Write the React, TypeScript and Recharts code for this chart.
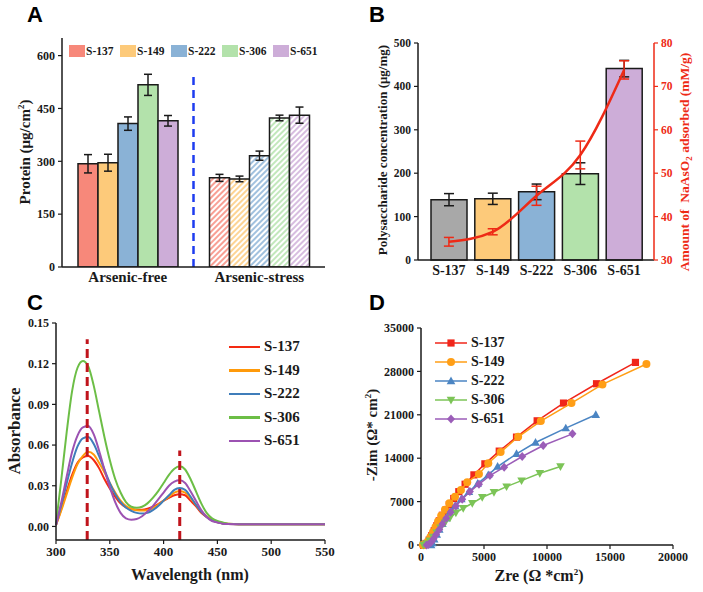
import React from 'react';
import {
  BarChart, Bar, XAxis, YAxis, ErrorBar, Cell, ReferenceLine, Legend,
  ComposedChart, Line, LineChart, ScatterChart, Scatter,
} from 'recharts';

const SERIF = '"Liberation Serif", "Times New Roman", serif';
const SANS = '"Liberation Sans", Arial, sans-serif';
const INK = '#1a1a1a';
const RED = '#EE2A16';

// ---------- shared ----------
const strains = ['S-137', 'S-149', 'S-222', 'S-306', 'S-651'];
const barColors = ['#F7887A', '#FDCA7A', '#8AB2D6', '#B3E2AB', '#CDADD8'];

// ---------- A: protein ----------
const conditions = ['Arsenic-free', 'Arsenic-stress'];
const proteinFree = [293, 296, 407, 517, 415];
const proteinFreeErr = [26, 24, 19, 30, 15];
const proteinStress = [253, 250, 316, 423, 431];
const proteinStressErr = [10, 8, 13, 8, 23];
const proteinTicks = [0, 150, 300, 450, 600];

// ---------- B: polysaccharide / adsorption ----------
const polyBarColors = ['#A8A8A8', '#FDCA7A', '#8AB2D6', '#B3E2AB', '#CDADD8'];
const polysaccharide = [139, 141, 157, 199, 441];
const polysaccharideErr = [14, 13, 18, 25, 19];
const adsorbed = [34.2, 36.5, 44.8, 54.2, 73.8];
const adsorbedErr = [1.0, 0.7, 2.2, 3.2, 2.1];
const polyTicks = [0, 100, 200, 300, 400, 500];
const adsTicks = [30, 40, 50, 60, 70, 80];

// ---------- C: UV-vis spectra ----------
const wavelength = [
  300, 305, 310, 315, 320, 325, 330, 335, 340, 345, 350, 355, 360, 365, 370, 375, 380,
  385, 390, 395, 400, 405, 410, 415, 420, 425, 430, 435, 440, 445, 450, 455, 460,
  470, 480, 490, 500, 510, 520, 530, 540, 550,
];
const absS137 = [
  0.001, 0.013, 0.026, 0.038, 0.047, 0.051, 0.052, 0.049, 0.043, 0.035, 0.028, 0.022, 0.017, 0.014, 0.0128, 0.0123, 0.0123,
  0.013, 0.0145, 0.0165, 0.019, 0.021, 0.023, 0.0238, 0.023, 0.019, 0.015, 0.010, 0.007, 0.0045, 0.003, 0.0022, 0.0018,
  0.0017, 0.0017, 0.0017, 0.0017, 0.0017, 0.0017, 0.0017, 0.0017, 0.0017,
];
const absS149 = [
  0.001, 0.012, 0.024, 0.036, 0.046, 0.052, 0.055, 0.053, 0.047, 0.040, 0.032, 0.025, 0.019, 0.015, 0.013, 0.012, 0.0118,
  0.012, 0.0135, 0.016, 0.019, 0.022, 0.025, 0.026, 0.025, 0.021, 0.016, 0.011, 0.0075, 0.005, 0.0035, 0.0025, 0.002,
  0.0017, 0.0017, 0.0017, 0.0017, 0.0017, 0.0017, 0.0017, 0.0017, 0.0017,
];
const absS222 = [
  0.001, 0.016, 0.032, 0.047, 0.059, 0.065, 0.066, 0.061, 0.052, 0.042, 0.032, 0.024, 0.018, 0.014, 0.0115, 0.010, 0.0095,
  0.010, 0.012, 0.015, 0.019, 0.023, 0.027, 0.0283, 0.027, 0.022, 0.016, 0.011, 0.007, 0.0045, 0.003, 0.0022, 0.0018,
  0.0017, 0.0017, 0.0017, 0.0017, 0.0017, 0.0017, 0.0017, 0.0017, 0.0017,
];
const absS306 = [
  0.002, 0.035, 0.070, 0.100, 0.117, 0.122, 0.118, 0.104, 0.085, 0.066, 0.049, 0.035, 0.025, 0.018, 0.0145, 0.0137, 0.0145,
  0.017, 0.021, 0.026, 0.032, 0.038, 0.0425, 0.0443, 0.042, 0.035, 0.026, 0.017, 0.010, 0.006, 0.004, 0.003, 0.002,
  0.0017, 0.0017, 0.0017, 0.0017, 0.0017, 0.0017, 0.0017, 0.0017, 0.0017,
];
const absS651 = [
  0.001, 0.018, 0.037, 0.055, 0.067, 0.073, 0.074, 0.068, 0.056, 0.042, 0.029, 0.018, 0.010, 0.006, 0.005, 0.0055, 0.0075,
  0.011, 0.015, 0.020, 0.025, 0.030, 0.033, 0.034, 0.032, 0.026, 0.019, 0.012, 0.007, 0.004, 0.003, 0.002, 0.0018,
  0.0017, 0.0017, 0.0017, 0.0017, 0.0017, 0.0017, 0.0017, 0.0017, 0.0017,
];
const lineColors = ['#F42A12', '#FF9A0A', '#3F7DBA', '#6CBE46', '#9C52B2'];
const absTicks = [0, 0.03, 0.06, 0.09, 0.12, 0.15];
const wlTicks = [300, 350, 400, 450, 500, 550];
const peakWavelengths = [329, 415];
const peakMarkTops = [0.138, 0.056];

// ---------- D: Nyquist plots [Zre, -Zim] ----------
const nyquistS137: [number, number][] = [
  [200, 0], [400, 250], [650, 800], [850, 1500], [1050, 2300], [1250, 3100], [1450, 3900], [1700, 4800],
  [1950, 5600], [2250, 6500], [2600, 7500], [3000, 8600], [3500, 9800], [4200, 11310], [5070, 13090],
  [6210, 15140], [7580, 17400], [9220, 20030], [11310, 22890], [13930, 26010], [17020, 29450],
];
const nyquistS149: [number, number][] = [
  [150, 0], [300, 100], [550, 600], [750, 1300], [950, 2100], [1150, 2900], [1350, 3800], [1600, 4700],
  [1900, 5700], [2250, 6730], [2700, 7800], [3170, 8880], [3670, 10130], [4600, 11470], [5340, 13200],
  [6320, 14980], [7710, 17450], [9510, 19980], [11940, 22890], [14400, 25900], [17890, 29190],
];
const nyquistS222: [number, number][] = [
  [800, 0], [900, 300], [1050, 900], [1250, 1700], [1450, 2500], [1700, 3400], [2000, 4300], [2300, 5300],
  [2700, 6300], [3200, 7400], [3800, 8600], [4500, 9900], [5340, 11310], [6080, 12650], [7580, 14700],
  [9090, 16530], [11490, 18850], [13870, 21000],
];
const nyquistS306: [number, number][] = [
  [200, 0], [450, 250], [700, 700], [950, 1300], [1250, 2000], [1550, 2800], [1900, 3600], [2300, 4400],
  [2770, 5220], [3350, 5930], [4070, 6730], [4860, 7700], [5790, 8510], [6790, 9420], [7980, 10390],
  [9430, 11580], [11070, 12650],
];
const nyquistS651: [number, number][] = [
  [450, 0], [600, 100], [800, 450], [1000, 1000], [1200, 1700], [1450, 2500], [1700, 3400], [2000, 4300],
  [2350, 5300], [2770, 6300], [3270, 7380], [3880, 8610], [4600, 9810], [5470, 11200], [6600, 12550],
  [8030, 14270], [9700, 16040], [12020, 17930],
];
const nyquistColors = ['#F0261A', '#FF9E16', '#4B85C3', '#7CC457', '#9B5DB8'];
const nyquistMarkers = ['square', 'circle', 'up', 'down', 'diamond'];
const zreTicks = [0, 5000, 10000, 15000, 20000];
const zimTicks = [0, 7000, 14000, 21000, 28000, 35000];

// ---------- helpers ----------
const tickFont = (size: number, fill = INK) => ({ fontFamily: SERIF, fontWeight: 700, fontSize: size, fill });
const axisLine = { stroke: INK, strokeWidth: 1.5 };
const tickLine = { stroke: INK, strokeWidth: 1.2 };

function AxisTitle({ x, y, rotate, size, color = INK, children }: any) {
  return (
    <div
      style={{
        position: 'absolute', left: x, top: y,
        transform: `translate(-50%, -50%)${rotate ? ' rotate(-90deg)' : ''}`,
        whiteSpace: 'nowrap', fontFamily: SERIF, fontWeight: 700, fontSize: size,
        color, lineHeight: 1,
      }}
    >
      {children}
    </div>
  );
}

function PanelTag({ x, y, children }: any) {
  return (
    <div style={{ position: 'absolute', left: x, top: y, fontFamily: SANS, fontWeight: 700, fontSize: 22, lineHeight: 1, color: '#000' }}>
      {children}
    </div>
  );
}

function Marker({ kind, cx, cy, color }: any) {
  switch (kind) {
    case 'square':
      return <rect x={cx - 3.6} y={cy - 3.6} width={7.2} height={7.2} fill={color} />;
    case 'circle':
      return <circle cx={cx} cy={cy} r={4} fill={color} />;
    case 'up':
      return <polygon points={`${cx},${cy - 4.5} ${cx + 4.3},${cy + 3.2} ${cx - 4.3},${cy + 3.2}`} fill={color} />;
    case 'down':
      return <polygon points={`${cx},${cy + 4.5} ${cx + 4.3},${cy - 3.2} ${cx - 4.3},${cy - 3.2}`} fill={color} />;
    default:
      return <polygon points={`${cx},${cy - 4.5} ${cx + 4},${cy} ${cx},${cy + 4.5} ${cx - 4},${cy}`} fill={color} />;
  }
}

const markerShape = (kind: string, color: string) => (props: any) => {
  const { cx, cy } = props;
  if (cx == null || cy == null) return <g />;
  return <Marker kind={kind} cx={cx} cy={cy} color={color} />;
};

// ---------- data tables ----------
const proteinRows = conditions.map((c, ci) => {
  const row: any = { condition: c };
  strains.forEach((s, si) => {
    row[s] = ci === 0 ? proteinFree[si] : proteinStress[si];
    row[`${s}_err`] = ci === 0 ? proteinFreeErr[si] : proteinStressErr[si];
  });
  return row;
});

const polyRows = strains.map((s, i) => ({
  strain: s, poly: polysaccharide[i], polyErr: polysaccharideErr[i], ads: adsorbed[i], adsErr: adsorbedErr[i],
}));

const spectra = [absS137, absS149, absS222, absS306, absS651];
const spectraRows = wavelength.map((w, i) => {
  const row: any = { wl: w };
  strains.forEach((s, si) => { row[s] = spectra[si][i]; });
  return row;
});

const nyquist = [nyquistS137, nyquistS149, nyquistS222, nyquistS306, nyquistS651].map((pts) =>
  pts.map(([x, y]) => ({ x, y })),
);

// ---------- legends ----------
const ProteinLegend = () => (
  <div style={{ display: 'flex' }}>
    {strains.map((s, i) => (
      <div key={s} style={{ display: 'flex', alignItems: 'center', width: 51 }}>
        <span style={{ display: 'inline-block', width: 16, height: 12, background: barColors[i] }} />
        <span style={{ marginLeft: 1, fontFamily: SERIF, fontWeight: 700, fontSize: 11.5, color: INK }}>{s}</span>
      </div>
    ))}
  </div>
);

const SpectraLegend = () => (
  <div>
    {strains.map((s, i) => (
      <div key={s} style={{ display: 'flex', alignItems: 'center', height: 23.5 }}>
        <span style={{ display: 'inline-block', width: 31, height: 2.5, background: lineColors[i] }} />
        <span style={{ marginLeft: 4, fontFamily: SERIF, fontWeight: 700, fontSize: 15, color: INK }}>{s}</span>
      </div>
    ))}
  </div>
);

const NyquistLegend = () => (
  <div>
    {strains.map((s, i) => (
      <div key={s} style={{ display: 'flex', alignItems: 'center', height: 18.85 }}>
        <svg width={32} height={12} style={{ display: 'block' }}>
          <line x1={0} y1={6} x2={32} y2={6} stroke={nyquistColors[i]} strokeWidth={1.5} />
          <Marker kind={nyquistMarkers[i]} cx={16} cy={6} color={nyquistColors[i]} />
        </svg>
        <span style={{ marginLeft: 4, fontFamily: SERIF, fontWeight: 700, fontSize: 14, color: INK }}>{s}</span>
      </div>
    ))}
  </div>
);

export default function App() {
  return (
    <div style={{ position: 'absolute', left: 0, top: 0, width: 703, height: 592, background: '#fff', overflow: 'hidden' }}>
      {/* A */}
      <div style={{ position: 'absolute', left: 0, top: 0 }}>
        <BarChart width={345} height={295} data={proteinRows} margin={{ top: 38, right: 20, bottom: 0, left: 20 }} barGap={0} barSize={20}>
          <defs>
            {barColors.map((c, i) => (
              <pattern key={c} id={`hatch-${i}`} patternUnits="userSpaceOnUse" width={4} height={4} patternTransform="rotate(45)">
                <rect width={4} height={4} fill="#fff" />
                <line x1={1} y1={0} x2={1} y2={4} stroke={c} strokeWidth={1.6} />
              </pattern>
            ))}
          </defs>
          <XAxis dataKey="condition" height={28} tickLine={false} tickSize={0} tickMargin={4} axisLine={axisLine} tick={tickFont(15)} interval={0} />
          <XAxis xAxisId="mid" type="number" domain={[0, 1]} orientation="top" height={0} tick={false} tickLine={false} axisLine={axisLine} allowDataOverflow />
          <YAxis domain={[0, 650]} ticks={proteinTicks} width={42} axisLine={axisLine} tickLine={tickLine} tickSize={4} tickMargin={3} tick={tickFont(12)} allowDataOverflow />
          <YAxis yAxisId="frame" orientation="right" domain={[0, 1]} width={0} tick={false} tickLine={false} axisLine={axisLine} />
          {strains.map((s, si) => (
            <Bar key={s} dataKey={s} stroke={INK} strokeWidth={1.5} isAnimationActive={false}>
              {conditions.map((c, ci) => (
                <Cell key={c} fill={ci === 0 ? barColors[si] : `url(#hatch-${si})`} />
              ))}
              <ErrorBar dataKey={`${s}_err`} width={4} stroke={INK} strokeWidth={1.5} />
            </Bar>
          ))}
          <ReferenceLine xAxisId="mid" segment={[{ x: 0.5, y: 0 }, { x: 0.5, y: 550 }]} stroke="#1E3CF0" strokeWidth={2.5} strokeDasharray="8 5" />
          <Legend layout="horizontal" verticalAlign="middle" align="center" content={() => <ProteinLegend />}
            wrapperStyle={{ left: 69, top: 45, width: 260, height: 14 }} />
        </BarChart>
      </div>
      <AxisTitle x={25} y={152} rotate size={15}>Protein (μg/cm<sup style={{ fontSize: 9 }}>2</sup>)</AxisTitle>
      <PanelTag x={27} y={4}>A</PanelTag>

      {/* B */}
      <div style={{ position: 'absolute', left: 350, top: 0 }}>
        <ComposedChart width={353} height={295} data={polyRows} margin={{ top: 43, right: 19, bottom: 7, left: 28 }}>
          <XAxis dataKey="strain" height={28} padding={{ left: 9, right: 8 }} tickLine={false} tickSize={0} tickMargin={5} tick={tickFont(14)} axisLine={axisLine} interval={0} />
          <XAxis xAxisId="top" dataKey="strain" orientation="top" height={0} tick={false} tickLine={false} axisLine={axisLine} />
          <YAxis yAxisId="left" domain={[0, 500]} ticks={polyTicks} width={40} axisLine={axisLine} tickLine={tickLine} tickSize={4} tickMargin={3} tick={tickFont(11.5)} />
          <YAxis yAxisId="right" orientation="right" domain={[30, 80]} ticks={adsTicks} width={30}
            axisLine={{ stroke: RED, strokeWidth: 1.5 }} tickLine={{ stroke: RED, strokeWidth: 1.2 }} tickSize={4} tickMargin={3} tick={tickFont(11.5, RED)} />
          <Bar yAxisId="left" dataKey="poly" barSize={36} stroke={INK} strokeWidth={1.5} isAnimationActive={false}>
            {polyRows.map((r, i) => <Cell key={r.strain} fill={polyBarColors[i]} />)}
            <ErrorBar dataKey="polyErr" width={5} stroke={INK} strokeWidth={1.5} />
          </Bar>
          <Line yAxisId="right" dataKey="ads" type="monotone" stroke={RED} strokeWidth={2.5} dot={false} isAnimationActive={false}>
            <ErrorBar dataKey="adsErr" width={5} stroke={RED} strokeWidth={1.5} />
          </Line>
        </ComposedChart>
      </div>
      <AxisTitle x={382} y={150} rotate size={13}>Polysaccharide concentration (μg/mg)</AxisTitle>
      <AxisTitle x={686} y={162} rotate size={13.5} color={RED}>Amount of&nbsp; NaAsO<sub style={{ fontSize: 9 }}>2</sub> adsorbed (mM/g)</AxisTitle>
      <PanelTag x={369} y={4}>B</PanelTag>

      {/* C */}
      <div style={{ position: 'absolute', left: 0, top: 295 }}>
        <LineChart width={345} height={297} data={spectraRows} margin={{ top: 28, right: 20, bottom: 28, left: 10 }}>
          <XAxis dataKey="wl" type="number" domain={[300, 550]} ticks={wlTicks} height={24} axisLine={axisLine} tickLine={tickLine} tickSize={4} tickMargin={3} tick={tickFont(13)} />
          <XAxis xAxisId="top" type="number" domain={[300, 550]} orientation="top" height={0} tick={false} tickLine={false} axisLine={axisLine} />
          <YAxis domain={[-0.01, 0.15]} ticks={absTicks} width={46} tickFormatter={(v: number) => v.toFixed(2)}
            axisLine={axisLine} tickLine={tickLine} tickSize={4} tickMargin={3} tick={tickFont(12)} allowDataOverflow />
          <YAxis yAxisId="frame" orientation="right" domain={[0, 1]} width={0} tick={false} tickLine={false} axisLine={axisLine} />
          {strains.map((s, i) => (
            <Line key={s} dataKey={s} type="monotone" stroke={lineColors[i]} strokeWidth={2} dot={false} isAnimationActive={false} />
          ))}
          {peakWavelengths.map((w, i) => (
            <ReferenceLine key={w} segment={[{ x: w, y: -0.01 }, { x: w, y: peakMarkTops[i] }]} stroke="#C0141C" strokeWidth={3} strokeDasharray="9 5" />
          ))}
          <Legend layout="horizontal" verticalAlign="middle" align="center" content={() => <SpectraLegend />}
            wrapperStyle={{ left: 229, top: 40, width: 110, height: 118 }} />
        </LineChart>
      </div>
      <AxisTitle x={14} y={431} rotate size={17}>Absorbance</AxisTitle>
      <AxisTitle x={190} y={575} size={16}>Wavelength (nm)</AxisTitle>
      <PanelTag x={27} y={292}>C</PanelTag>

      {/* D */}
      <div style={{ position: 'absolute', left: 350, top: 295 }}>
        <ScatterChart width={353} height={297} margin={{ top: 33, right: 30, bottom: 25, left: 20 }}>
          <XAxis dataKey="x" type="number" domain={[0, 20000]} ticks={zreTicks} height={22} axisLine={axisLine} tickLine={tickLine} tickSize={4} tickMargin={3} tick={tickFont(12)} />
          <XAxis xAxisId="top" type="number" domain={[0, 20000]} orientation="top" height={0} tick={false} tickLine={false} axisLine={axisLine} />
          <YAxis dataKey="y" type="number" domain={[0, 35000]} ticks={zimTicks} width={51} axisLine={axisLine} tickLine={tickLine} tickSize={4} tickMargin={3} tick={tickFont(12)} />
          <YAxis yAxisId="frame" orientation="right" type="number" domain={[0, 1]} width={0} tick={false} tickLine={false} axisLine={axisLine} />
          {nyquist.map((pts, i) => (
            <Scatter key={strains[i]} name={strains[i]} data={pts} fill={nyquistColors[i]}
              line={{ stroke: nyquistColors[i], strokeWidth: 1.5 }} lineType="joint"
              shape={markerShape(nyquistMarkers[i], nyquistColors[i])} isAnimationActive={false} />
          ))}
          <Legend layout="horizontal" verticalAlign="middle" align="center" content={() => <NyquistLegend />}
            wrapperStyle={{ left: 85, top: 39, width: 110, height: 95 }} />
        </ScatterChart>
      </div>
      <AxisTitle x={372} y={435} rotate size={15}>-Zim (Ω* cm<sup style={{ fontSize: 9 }}>2</sup>)</AxisTitle>
      <AxisTitle x={539} y={576} size={16}>Zre (Ω *cm<sup style={{ fontSize: 9 }}>2</sup>)</AxisTitle>
      <PanelTag x={369} y={292}>D</PanelTag>
    </div>
  );
}
